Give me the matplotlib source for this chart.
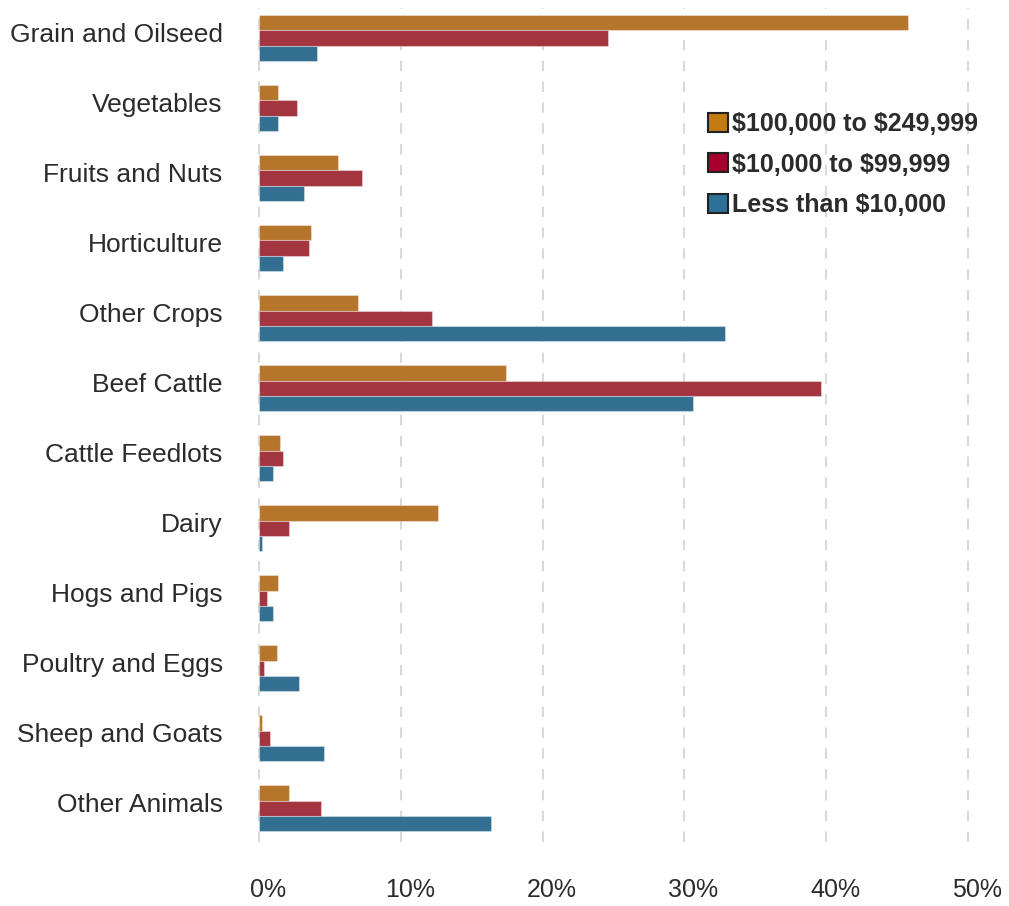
import matplotlib
matplotlib.use('Agg')
import matplotlib.pyplot as plt
import matplotlib.transforms as mtransforms
from matplotlib.patches import Patch
import numpy as np

plt.rcParams['font.family'] = ['Liberation Sans', 'DejaVu Sans']

# Share of farms by type, per sales class (percent)
categories = ['Grain and Oilseed', 'Vegetables', 'Fruits and Nuts', 'Horticulture',
              'Other Crops', 'Beef Cattle', 'Cattle Feedlots', 'Dairy',
              'Hogs and Pigs', 'Poultry and Eggs', 'Sheep and Goats', 'Other Animals']
sales_100k_250k = [45.8, 1.35, 5.6, 3.7, 7.0, 17.4, 1.5, 12.65, 1.35, 1.25, 0.2, 2.15]
sales_10k_100k = [24.6, 2.7, 7.25, 3.5, 12.2, 39.65, 1.7, 2.1, 0.55, 0.35, 0.8, 4.4]
sales_under_10k = [4.1, 1.35, 3.15, 1.7, 32.85, 30.6, 1.0, 0.2, 1.0, 2.85, 4.6, 16.35]
x_ticks = [0, 10, 20, 30, 40, 50]

bar_colors = ['#B5762C', '#A23540', '#336F91']
legend_colors = ['#C27C12', '#A8002D', '#2E7198']
labels = [r'\$100,000 to \$249,999', r'\$10,000 to \$99,999', r'Less than \$10,000']
text_color = '#2b2b2b'

fig = plt.figure(figsize=(10.09, 9.06), dpi=100)
W, H = 1009, 906
ax = fig.add_axes([251.9 / W, 64 / H, (975.1 - 251.9) / W, 834 / H])

y = np.arange(len(categories))
h = 0.22
series = [sales_100k_250k, sales_10k_100k, sales_under_10k]
for i, (vals, c) in enumerate(zip(series, bar_colors)):
    ax.barh(y + (i - 1) * h, vals, height=h, color=c,
            edgecolor=(1, 1, 1, 0.35), linewidth=0.8, zorder=3)

ax.set_xlim(-0.5, 50.5)
ax.set_ylim(11.48, -0.43)

# dashed vertical gridlines
for t in x_ticks:
    ax.axvline(t, color='#d9d9d9', linestyle=(0, (5, 5)), linewidth=1.5, zorder=1)

ax.set_xticks(x_ticks)
ax.set_xticklabels([f'{t}%' for t in x_ticks], fontsize=18, color=text_color)
ax.set_yticks(y - 0.085)
ax.set_yticklabels(categories, fontsize=19, color=text_color)
ax.tick_params(axis='x', length=0, pad=26)
ax.tick_params(axis='y', length=0, pad=21)

shift = mtransforms.ScaledTranslation(0.09, 0, fig.dpi_scale_trans)
for lab in ax.get_xticklabels():
    lab.set_transform(lab.get_transform() + shift)

for s in ax.spines.values():
    s.set_visible(False)

handles = [Patch(facecolor=c, edgecolor='#222222', linewidth=1.5) for c in legend_colors]
leg = fig.legend(handles, labels, loc='upper left',
                 bbox_to_anchor=(708 / W, 1 - 112 / H), bbox_transform=fig.transFigure,
                 frameon=False, borderpad=0, borderaxespad=0,
                 handlelength=0.8, handleheight=0.8,
                 handletextpad=0.15, labelspacing=0.66,
                 prop={'size': 18, 'weight': 'bold'})
for t in leg.get_texts():
    t.set_color(text_color)

fig.savefig('out.png', dpi=100)
